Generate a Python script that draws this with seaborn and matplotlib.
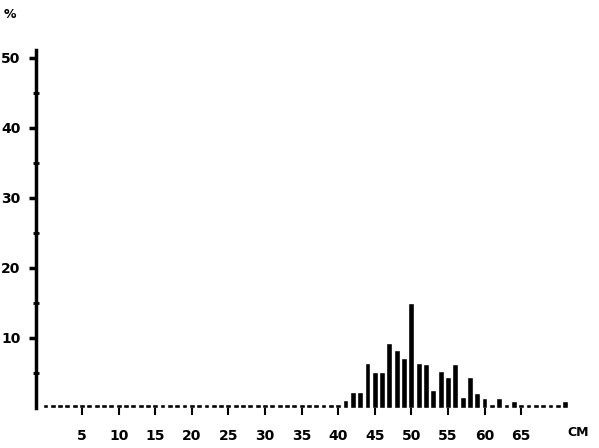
import numpy as np
import pandas as pd
import matplotlib
matplotlib.use("Agg")
import matplotlib.pyplot as plt
import seaborn as sns

# length classes (cm) and share of catch (%)
cm = list(range(0, 72))
pct = ([0.5] * 40 +
       [0.6, 1.1, 2.3, 2.3, 6.4, 5.1, 5.2, 9.3, 8.3, 7.1,
        15.0, 6.4, 6.3, 2.6, 5.3, 4.4, 6.3, 1.6, 4.4, 2.2,
        1.4, 0.5, 1.4, 0.5, 1.0, 0.5, 0.5, 0.5, 0.5, 0.5,
        0.5, 1.0])
x_ticks = [5, 10, 15, 20, 25, 30, 35, 40, 45, 50, 55, 60, 65]
y_ticks = [10, 20, 30, 40, 50]

df = pd.DataFrame({"cm": cm, "pct": pct})

sns.set_style("white")
plt.rcParams["font.family"] = ["DejaVu Sans"]
plt.rcParams["text.color"] = "black"

fig = plt.figure(figsize=(5.99, 4.48), dpi=100)
ax = fig.add_axes([0.060, 0.0893, 0.920, 0.800])

sns.barplot(data=df, x="cm", y="pct", native_scale=True, color="black",
            width=0.8, saturation=1, ax=ax)

ax.set_xlim(-1.3, 74)
ax.set_ylim(0, 51.2)

for s in ["top", "right", "bottom"]:
    ax.spines[s].set_visible(False)
ax.spines["left"].set_linewidth(2.5)
ax.spines["left"].set_color("black")

ax.set_xticks(x_ticks)
ax.set_xticklabels([str(t) for t in x_ticks], fontsize=10, fontweight="bold")
ax.set_yticks(y_ticks)
ax.set_yticklabels([str(t) for t in y_ticks], fontsize=10, fontweight="bold")
ax.set_yticks([5, 15, 25, 35, 45], minor=True)
ax.tick_params(axis="x", bottom=True, direction="out", length=5, width=1.5,
               pad=10, colors="black", labelcolor="black")
ax.tick_params(axis="y", which="major", left=True, direction="out", length=5,
               width=2.5, pad=6, colors="black", labelcolor="black")
ax.tick_params(axis="y", which="minor", left=True, direction="inout", length=4,
               width=2, colors="black")
ax.set_xlabel("")
ax.set_ylabel("")

fig.text(10 / 599, 1 - 14 / 448, "%", fontsize=9, fontweight="bold", ha="center", va="center")
fig.text(578 / 599, 1 - 432 / 448, "CM", fontsize=9, fontweight="bold", ha="center", va="center")

fig.savefig("out.png", dpi=100)
